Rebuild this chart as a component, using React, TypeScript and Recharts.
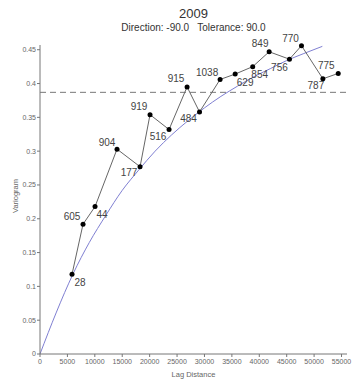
import React from 'react';
import { LineChart, Line, XAxis, YAxis, ReferenceLine, LabelList } from 'recharts';

// experimental variogram (lag distance, semivariance, number of pairs)
const lags = [5840, 7850, 10040, 14050, 18250, 20070, 23540, 26830, 29100, 32850, 35600, 38800, 41800, 45500, 47700, 51600, 54400];
const gammas = [0.118, 0.192, 0.218, 0.303, 0.277, 0.354, 0.332, 0.395, 0.358, 0.406, 0.414, 0.425, 0.447, 0.436, 0.456, 0.407, 0.415];
const pairCounts = [28, 605, 44, 904, 177, 919, 516, 915, 484, 1038, 629, 854, 849, 756, 770, 787, 775];

// fitted model curve
const modelLags = [0, 3000, 6000, 9000, 12000, 15000, 18000, 21000, 24000, 27000, 30000, 33000, 36000, 39000, 42000, 45000, 48000, 51500];
const modelGammas = [0, 0.062, 0.118, 0.165, 0.205, 0.242, 0.272, 0.3, 0.324, 0.345, 0.364, 0.381, 0.396, 0.41, 0.422, 0.434, 0.444, 0.455];

const sill = 0.387;

const xTicks = [0, 5000, 10000, 15000, 20000, 25000, 30000, 35000, 40000, 45000, 50000, 55000];
const yTicks = [0, 0.05, 0.1, 0.15, 0.2, 0.25, 0.3, 0.35, 0.4, 0.45];

const sampleData = lags.map((lag, i) => ({ lag, gamma: gammas[i], pairs: pairCounts[i] }));
const modelData = modelLags.map((lag, i) => ({ lag, gamma: modelGammas[i] }));

// where each pair-count label sits relative to its point (text centre)
const labelOffsets: [number, number][] = [
  [8, 8], [-11, -8], [7, 8], [-10, -7], [-11, 6], [-11, -8], [-11, 7], [-11, -8], [-11, 7],
  [-13, -7], [10, 8], [7, 8], [-9, -8], [-10, 8], [-11, -7], [-7, 7], [-12, -8],
];

const FONT = '"Liberation Sans", Arial, sans-serif';

const PairLabel = (props: any) => {
  const { x, y, value, index } = props;
  const [dx, dy] = labelOffsets[index] || [0, -8];
  return (
    <text x={x + dx} y={y + dy + 3.5} textAnchor="middle" fontSize={10} fill="#444" fontFamily={FONT}>
      {value}
    </text>
  );
};

const App: React.FC = () => {
  return (
    <div style={{ position: 'absolute', left: 0, top: 0, width: 353, height: 380, background: '#fff', fontFamily: FONT }}>
      <div style={{ position: 'absolute', left: 0, width: 353, top: 6, textAlign: 'center', fontSize: 13, color: '#333', paddingLeft: 34, boxSizing: 'border-box' }}>
        2009
      </div>
      <div style={{ position: 'absolute', left: 0, width: 353, top: 22, textAlign: 'center', fontSize: 10, color: '#333', paddingLeft: 34, boxSizing: 'border-box', whiteSpace: 'pre' }}>
        {'Direction: -90.0   Tolerance: 90.0'}
      </div>
      <div style={{ position: 'absolute', left: 15, top: 196, width: 0, height: 0 }}>
        <div style={{ transform: 'translate(-50%, -50%) rotate(-90deg)', fontSize: 7.5, color: '#666', whiteSpace: 'nowrap', position: 'absolute' }}>
          Variogram
        </div>
      </div>
      <LineChart width={353} height={380} margin={{ top: 45, right: 6, bottom: 0, left: 0 }}>
        <XAxis
          type="number"
          dataKey="lag"
          domain={[0, 56000]}
          ticks={xTicks}
          interval={0}
          tickSize={3}
          tickMargin={2}
          height={26}
          stroke="#777"
          tick={{ fontSize: 7, fill: '#666', fontFamily: FONT }}
          label={{ value: 'Lag Distance', position: 'insideBottom', offset: 3, fontSize: 7.5, fill: '#666', fontFamily: FONT }}
        />
        <YAxis
          type="number"
          domain={[0, 0.457]}
          ticks={yTicks}
          interval={0}
          tickSize={3}
          tickMargin={1}
          width={40}
          stroke="#777"
          tick={{ fontSize: 7, fill: '#666', fontFamily: FONT }}
        />
        <ReferenceLine y={sill} stroke="#777" strokeDasharray="6 4" />
        <Line
          data={modelData}
          dataKey="gamma"
          type="monotone"
          stroke="#7f7fd2"
          strokeWidth={1}
          dot={false}
          isAnimationActive={false}
        />
        <Line
          data={sampleData}
          dataKey="gamma"
          type="linear"
          stroke="#666"
          strokeWidth={1}
          dot={{ r: 2.5, fill: '#000', stroke: '#000', strokeWidth: 0 }}
          isAnimationActive={false}
        >
          <LabelList dataKey="pairs" content={<PairLabel />} />
        </Line>
      </LineChart>
    </div>
  );
};

export default App;
